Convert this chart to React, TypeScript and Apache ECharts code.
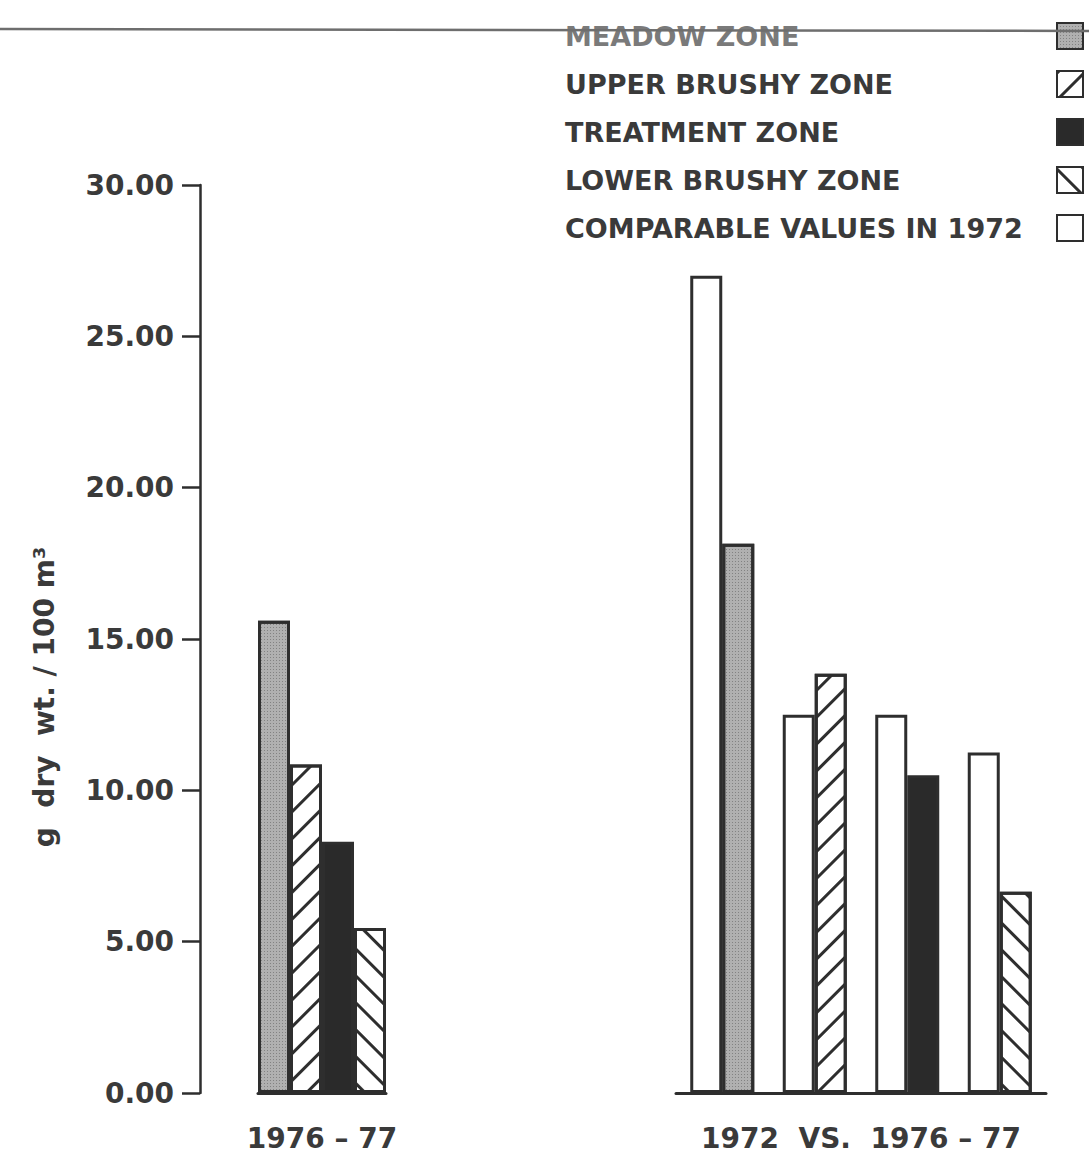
import React, { useEffect, useRef } from 'react';
import * as echarts from 'echarts';

// ---- data ----
const zoneNames = ['MEADOW ZONE', 'UPPER BRUSHY ZONE', 'TREATMENT ZONE', 'LOWER BRUSHY ZONE'];
const comparableName = 'COMPARABLE VALUES IN 1972';
const leftGroupLabel = '1976 – 77';
const rightGroupLabel = '1972  VS.  1976 – 77';
const yAxisTitle = 'g  dry  wt. / 100 m³';
const values1976Left = [15.6, 10.85, 8.3, 5.45];
const values1976Right = [18.15, 13.85, 10.5, 6.65];
const values1972 = [27.0, 12.5, 12.5, 11.25];
const yMin = 0;
const yMax = 30;
const yStep = 5;

// ---- styles ----
const FONT = 'DejaVu Sans';
const INK = '#2e2e2e';
const TEXT = '#3a3a3a';

const zoneStyles: any[] = [
  {
    color: '#b0b0b0',
    borderColor: INK,
    borderWidth: 3,
    decal: {
      symbol: 'rect',
      symbolSize: 1,
      color: 'rgba(60,60,60,0.4)',
      dashArrayX: [1, 2],
      dashArrayY: [1, 2],
    },
  },
  {
    color: '#ffffff',
    borderColor: INK,
    borderWidth: 3,
    decal: {
      symbol: 'rect',
      symbolSize: 1,
      color: INK,
      dashArrayX: [1, 0],
      dashArrayY: [3, 16],
      rotation: -Math.PI / 4,
    },
  },
  { color: '#2a2a2a', borderColor: INK, borderWidth: 3 },
  {
    color: '#ffffff',
    borderColor: INK,
    borderWidth: 3,
    decal: {
      symbol: 'rect',
      symbolSize: 1,
      color: INK,
      dashArrayX: [1, 0],
      dashArrayY: [3, 16],
      rotation: Math.PI / 4,
    },
  },
];
const comparableStyle = { color: '#ffffff', borderColor: INK, borderWidth: 3 };

export default function App() {
  const ref = useRef<HTMLDivElement>(null);

  useEffect(() => {
    if (!ref.current) return;
    const chart = echarts.init(ref.current, undefined, { renderer: 'svg' });

    const leftSeries = zoneNames.map((name, i) => ({
      name,
      type: 'bar',
      xAxisIndex: 0,
      yAxisIndex: 0,
      data: [values1976Left[i]],
      barWidth: 32,
      barGap: '0%',
      itemStyle: zoneStyles[i],
      emphasis: { disabled: true },
    }));

    const rightComparable = {
      name: comparableName,
      type: 'bar',
      xAxisIndex: 1,
      yAxisIndex: 1,
      data: values1972,
      barWidth: 32,
      barGap: '0%',
      itemStyle: comparableStyle,
      emphasis: { disabled: true },
    };

    const rightZones = zoneNames.map((name, i) => ({
      name,
      type: 'bar',
      xAxisIndex: 1,
      yAxisIndex: 1,
      stack: 'recent',
      data: values1976Right.map((v, j) => (j === i ? v : '-')),
      barWidth: 32,
      barGap: '0%',
      itemStyle: zoneStyles[i],
      emphasis: { disabled: true },
    }));

    const legendText = {
      width: 487,
      align: 'left',
      fontSize: 27,
      fontWeight: 'bold',
      fontFamily: FONT,
      color: TEXT,
      lineHeight: 30,
    };

    const labelStyle = { fontSize: 28, fontWeight: 'bold', fontFamily: FONT, color: TEXT };

    const option: any = {
      animation: false,
      backgroundColor: '#ffffff',
      textStyle: { fontFamily: FONT },
      grid: [
        { left: 258, width: 128, top: 185, height: 915 },
        { left: 676, width: 370, top: 185, height: 915 },
      ],
      xAxis: [
        {
          type: 'category',
          gridIndex: 0,
          data: [leftGroupLabel],
          axisLine: { show: true, lineStyle: { color: INK, width: 3 } },
          axisTick: { show: false },
          axisLabel: { show: false },
          name: leftGroupLabel,
          nameLocation: 'middle',
          nameGap: 31,
          nameTextStyle: labelStyle,
        },
        {
          type: 'category',
          gridIndex: 1,
          data: zoneNames,
          axisLine: { show: true, lineStyle: { color: INK, width: 3 } },
          axisTick: { show: false },
          axisLabel: { show: false },
          name: rightGroupLabel,
          nameLocation: 'middle',
          nameGap: 31,
          nameTextStyle: labelStyle,
        },
      ],
      yAxis: [
        {
          type: 'value',
          gridIndex: 0,
          min: yMin,
          max: yMax,
          interval: yStep,
          offset: 58,
          splitLine: { show: false },
          axisLine: { show: true, lineStyle: { color: INK, width: 2.5 } },
          axisTick: { show: true, inside: false, length: 18, lineStyle: { color: INK, width: 2.5 } },
          axisLabel: {
            formatter: (v: number) => v.toFixed(2),
            ...labelStyle,
            margin: 26,
          },
          name: yAxisTitle,
          nameLocation: 'middle',
          nameGap: 142,
          nameRotate: 90,
          nameTextStyle: { ...labelStyle, fontSize: 28, padding: [0, 116, 0, 0] },
        },
        {
          type: 'value',
          gridIndex: 1,
          min: yMin,
          max: yMax,
          interval: yStep,
          show: false,
          splitLine: { show: false },
        },
      ],
      legend: {
        orient: 'vertical',
        left: 565,
        top: 22,
        padding: 0,
        itemGap: 20,
        itemWidth: 26,
        itemHeight: 26,
        align: 'right',
        icon: 'rect',
        selectedMode: false,
        data: [...zoneNames, comparableName],
        formatter: (name: string) => (name === zoneNames[0] ? `{g|${name}}` : `{t|${name}}`),
        textStyle: {
          rich: {
            t: legendText,
            g: { ...legendText, color: '#7a7a7a' },
          },
        },
      },
      graphic: [
        {
          type: 'line',
          shape: { x1: 0, y1: 29, x2: 1089, y2: 31 },
          style: { stroke: '#6e6e6e', lineWidth: 2.5 },
          z: 100,
          silent: true,
        },
      ],
      series: [...leftSeries, rightComparable, ...rightZones],
    };

    chart.setOption(option);
    return () => chart.dispose();
  }, []);

  return (
    <div
      ref={ref}
      style={{ position: 'absolute', left: 0, top: 0, width: 1089, height: 1157, background: '#fff' }}
    />
  );
}
